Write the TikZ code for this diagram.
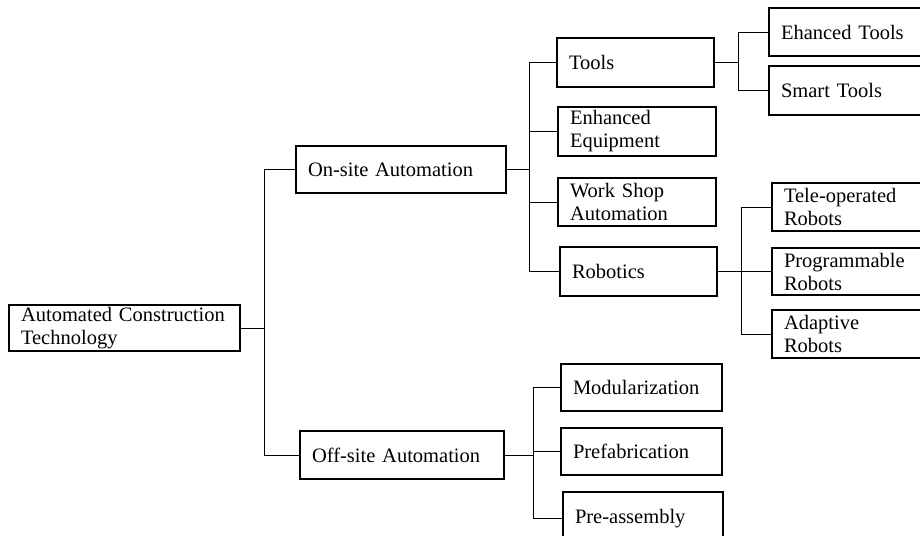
\documentclass[tikz,border=0pt]{standalone}
\usepackage{fontspec}
\setmainfont{Liberation Serif}
\begin{document}
\begin{tikzpicture}[x=1pt,y=-1pt,
  box/.style={draw=black, line width=1.2pt, rectangle, align=left,
    inner xsep=12pt, inner ysep=0pt, font=\fontsize{20.5}{23}\selectfont},
  link/.style={draw=black, line width=0.9pt}]
\useasboundingbox (0,0) rectangle (920,535);
\fill[white] (0,0) rectangle (920,535);
\clip (0,0) rectangle (920,535);

% level 1
\node[box, minimum width=231, minimum height=46, text width=207] (root) at (124.5,328)
  {Automated Construction\\Technology};

% level 2
\node[box, minimum width=210, minimum height=47, text width=186] (onsite) at (401,169.5)
  {On-site Automation};
\node[box, minimum width=204, minimum height=48, text width=180] (offsite) at (402,455)
  {Off-site Automation};

% level 3, on-site branch
\node[box, minimum width=157, minimum height=49, text width=133] (tools) at (635.5,62.5) {Tools};
\node[box, minimum width=158, minimum height=49, text width=134] (equip) at (637,131.5)
  {Enhanced\\Equipment};
\node[box, minimum width=158, minimum height=48, text width=134] (workshop) at (637,202)
  {Work Shop\\Automation};
\node[box, minimum width=157, minimum height=49, text width=133] (robotics) at (638.5,271.5) {Robotics};

% level 3, off-site branch
\node[box, minimum width=161, minimum height=47, text width=137] (modul) at (641.5,387.5) {Modularization};
\node[box, minimum width=161, minimum height=47, text width=137] (prefab) at (641.5,451.5) {Prefabrication};
\node[box, minimum width=160, minimum height=53, text width=136] (preass) at (643,518.5) {Pre-assembly};

% level 4
\node[box, minimum width=166, minimum height=48, text width=142] (enhtools) at (852,32) {Ehanced Tools};
\node[box, minimum width=166, minimum height=49, text width=142] (smart) at (852,90.5) {Smart Tools};
\node[box, minimum width=163, minimum height=48, text width=139] (tele) at (853.5,207)
  {Tele-operated\\Robots};
\node[box, minimum width=163, minimum height=47, text width=139] (prog) at (853.5,271.5)
  {Programmable\\Robots};
\node[box, minimum width=163, minimum height=48, text width=139] (adapt) at (853.5,334)
  {Adaptive\\Robots};

% connectors
\draw[link] (root.east) -- ++(24,0) coordinate (j1);
\draw[link] (onsite.west) -| (j1) |- (offsite.west);

\draw[link] (onsite.east) -- ++(23,0) coordinate (j2);
\draw[link] (tools.west) -| (j2) |- (robotics.west);
\draw[link] (equip.west) -- (equip.west -| j2);
\draw[link] (workshop.west) -- (workshop.west -| j2);

\draw[link] (offsite.east) -- ++(29,0) coordinate (j5);
\draw[link] (modul.west) -| (j5) |- (preass.west);
\draw[link] (prefab.west) -- (prefab.west -| j5);

\draw[link] (tools.east) -- ++(24,0) coordinate (j3);
\draw[link] (enhtools.west) -| (j3) |- (smart.west);

\draw[link] (robotics.east) -- ++(24,0) coordinate (j4);
\draw[link] (tele.west) -| (j4) |- (adapt.west);
\draw[link] (prog.west) -- (prog.west -| j4);
\end{tikzpicture}
\end{document}
